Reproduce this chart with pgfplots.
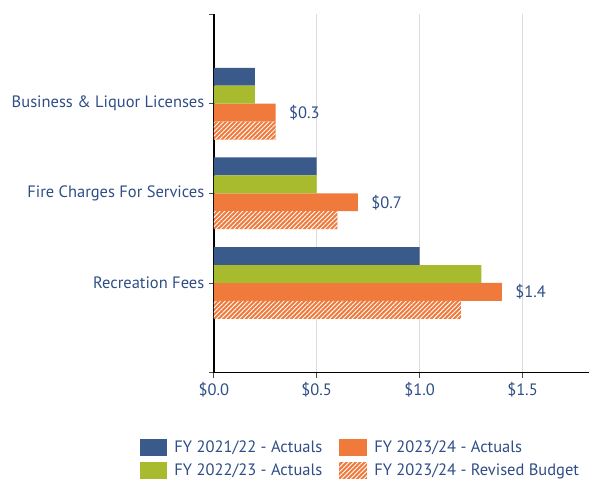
\documentclass[border=0pt]{standalone}
\usepackage{pgfplots}
\pgfplotsset{compat=1.18}
\usepackage{fontspec}
\setmainfont{PT Sans}
\usetikzlibrary{patterns.meta}
\definecolor{cBlue}{HTML}{3A5A8C}
\definecolor{cGreen}{HTML}{A8BA2E}
\definecolor{cOrange}{HTML}{EF7A3B}
\definecolor{cText}{HTML}{2F4E87}
\definecolor{cGrid}{HTML}{DCDCDC}
\newcommand{\chartfont}{\fontsize{16.5}{19}\selectfont}

\begin{document}
\begin{tikzpicture}
\begin{axis}[
    xbar, scale only axis, width=376pt, height=359pt,
    xmin=0, xmax=1.825, ymin=0, ymax=4,
    bar width=0.2,
    axis x line*=bottom, axis y line*=left,
    x axis line style={black, line width=1.2pt},
    y axis line style={black, line width=1.6pt},
    tick align=outside, major tick length=5pt,
    tick style={black!70, line width=0.6pt},
    xtick={0,0.5,1,1.5},
    xticklabel={\$\pgfmathprintnumber[fixed,fixed zerofill,precision=1]{\tick}},
    /pgf/number format/assume math mode=true,
    ytick={0,1,2,3,4},
    yticklabels={,Recreation Fees,Fire Charges For Services,Business \& Liquor Licenses,},
    xmajorgrids, major grid style={cGrid, line width=1.5pt},
    ticklabel style={font=\chartfont, text=cText},
    xticklabel style={yshift=-1pt},
    yticklabel style={xshift=-1pt},
    legend style={draw=none, at={(0.39,-0.178)}, anchor=north,
        font=\chartfont, text=cText,
        /tikz/every even column/.append style={column sep=15pt},
        row sep=6pt},
    legend columns=2, legend cell align=left,
    legend image code/.code={\path[#1] (0pt,-8.5pt) rectangle (28pt,8.5pt); \path (33pt,0pt);},
    every node near coord/.append style={font=\chartfont, text=cText, xshift=10pt},
]
\addplot[draw=none, fill=cBlue, bar shift=0.3] coordinates {(0.2,3) (0.5,2) (1.0,1)};
\addlegendentry{FY 2021/22 - Actuals}
\addplot[draw=none, fill=cOrange, bar shift=-0.1,
    nodes near coords={\$\pgfmathprintnumber[fixed,fixed zerofill,precision=1]{\pgfplotspointmeta}}]
    coordinates {(0.3,3) (0.7,2) (1.4,1)};
\addlegendentry{FY 2023/24 - Actuals}
\addplot[draw=none, fill=cGreen, bar shift=0.1] coordinates {(0.2,3) (0.5,2) (1.3,1)};
\addlegendentry{FY 2022/23 - Actuals}
\addplot[draw=none, fill=cOrange, bar shift=-0.3,
    postaction={pattern={Lines[angle=45,distance=3.2pt,line width=0.9pt]}, pattern color=white}]
    coordinates {(0.3,3) (0.6,2) (1.2,1)};
\addlegendentry{FY 2023/24 - Revised Budget}
\end{axis}
\path (-214pt,-108pt) rectangle (376pt,373pt);
\end{tikzpicture}
\end{document}
